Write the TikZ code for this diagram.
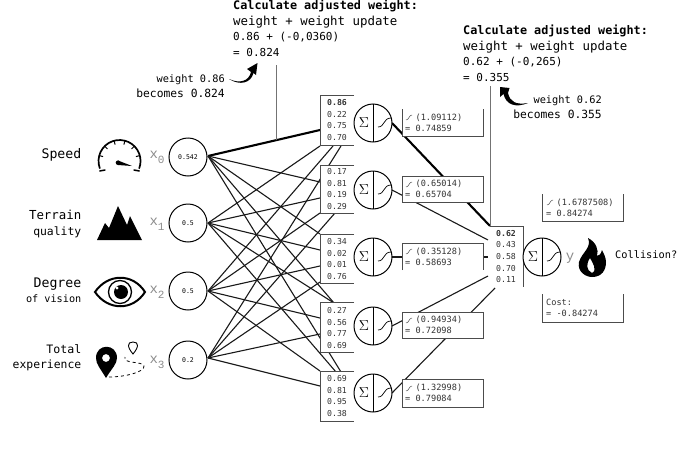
\documentclass[tikz,border=0pt]{standalone}
\usepackage{fontspec}
\setmainfont{DejaVu Sans Mono}
\newfontfamily\xfont{Liberation Mono}
\newcommand{\fs}[1]{\fontsize{#1}{15.6}\selectfont}
\begin{document}
\begin{tikzpicture}[x=1pt,y=-1pt,
  wire/.style={line width=1.1pt,draw=black!90},
  heavy/.style={line width=2.1pt},
  frame/.style={line width=0.8pt,draw=black!70},
  neuron/.style={circle,draw,line width=1pt,minimum size=38pt,inner sep=0pt,fill=white},
  weights/.style={font=\fontsize{8.2}{11.7}\selectfont,align=center,text=black!80,inner sep=0pt},
  act/.style={font=\fontsize{8.6}{11}\selectfont,align=left,anchor=west,inner sep=0pt,text=black!80},
  lbl/.style={font=\fontsize{11}{15.4}\selectfont,align=right,anchor=east,inner sep=0pt},
  xlab/.style={text=black!45,inner sep=0pt,font=\xfont\fontsize{14}{14}\selectfont},
  note/.style={font=\fontsize{11}{15.6}\selectfont,align=left,anchor=north west,inner sep=0pt},
  leader/.style={line width=0.9pt,draw=black!55},
  curvelet/.style={line width=0.7pt},
  tinycurve/.style={line width=0.5pt,draw=black!70}]
\useasboundingbox (0,0) rectangle (683,450);

% input neurons
\node[neuron] (i0) at (188,157) {\fontsize{6.5}{8}\selectfont 0.542};
\node[neuron] (i1) at (188,223) {\fontsize{6.5}{8}\selectfont 0.5};
\node[neuron] (i2) at (188,291) {\fontsize{6.5}{8}\selectfont 0.5};
\node[neuron] (i3) at (188,360) {\fontsize{6.5}{8}\selectfont 0.2};

% attachment points of the input wires
\coordinate (o0) at (208,156);
\coordinate (o1) at (208,223);
\coordinate (o2) at (208,291);
\coordinate (o3) at (208,358);
\coordinate (a0) at (320,130);
\coordinate (a1) at (320,146);
\coordinate (a2) at (333,146);
\coordinate (a3) at (341,146);
\coordinate (b0) at (320,182);
\coordinate (b1) at (320,198);
\coordinate (b2) at (320,213);
\coordinate (b3) at (335,213);
\coordinate (c0) at (320,234);
\coordinate (c1) at (320,250);
\coordinate (c2) at (320,266);
\coordinate (c3) at (320,282);
\coordinate (d0) at (334,303);
\coordinate (d1) at (334,303);
\coordinate (d2) at (320,318);
\coordinate (d3) at (320,334);
\coordinate (e0) at (341,372);
\coordinate (e1) at (336,372);
\coordinate (e2) at (320,371);
\coordinate (e3) at (320,386);

% wires from the input layer to the hidden layer
\draw[heavy] (o0) -- (a0);
\foreach \s/\t in {o0/b0,o0/c0,o0/d0,o0/e0,
                   o1/a1,o1/b1,o1/c1,o1/d1,o1/e1,
                   o2/a2,o2/b2,o2/c2,o2/d2,o2/e2,
                   o3/a3,o3/b3,o3/c3,o3/d3,o3/e3}
  \draw[wire] (\s) -- (\t);

% wires from the hidden layer to the output
\coordinate (s0) at (392,123);
\coordinate (s1) at (392,190);
\coordinate (s2) at (392,257);
\coordinate (s3) at (392,326);
\coordinate (s4) at (392,393);
\draw[heavy] (s0) -- (490,226);
\draw[wire] (s1) -- (488,240);
\draw[wire] (s2) -- (488,257);
\draw[wire] (s3) -- (488,276);
\draw[wire] (s4) -- (495,288);

% leader lines to the calculations
\draw[leader] (276,65) -- (276,140);
\draw[leader] (490,86) -- (490,226);

% hidden layer: weight lists
\foreach \n/\t/\b/\c/\l in {
   h0/95/145/120/{\textbf{0.86}\\0.22\\0.75\\0.70},
   h1/165/213/189/{0.17\\0.81\\0.19\\0.29},
   h2/234/283/259/{0.34\\0.02\\0.01\\0.76},
   h3/302/352/328/{0.27\\0.56\\0.77\\0.69},
   h4/371/421/396/{0.69\\0.81\\0.95\\0.38}}{
  \path[fill=white] (320,\t) rectangle (354,\b);
  \draw[frame] (354,\t) -- (320,\t) -- (320,\b) -- (354,\b);
  \node[weights] (\n) at (337,\c) {\l};
}

% hidden layer: summation and activation
\foreach \n/\y in {n0/123,n1/190,n2/257,n3/326,n4/393}{
  \node[neuron] (\n) at (373,\y) {};
  \draw[line width=0.8pt] (373,\y-19) -- (373,\y+19);
  \node[inner sep=0pt,font=\fontsize{15}{15}\selectfont] at (364,\y) {$\Sigma$};
  \draw[curvelet] (378,\y+4) .. controls (385,\y+4) and (383,\y-5) .. (391,\y-5);
}

% activation read-outs
\path[fill=white] (402,109) rectangle (483,136);
\draw[frame] (402,109) -- (402,136) -- (483,136) -- (483,109);
\node[act] (r0) at (405,122.5) {\hspace*{10.4pt}(1.09112)\\= 0.74859};
\path[fill=white] (402,176) rectangle (483,202);
\draw[frame] (402,176) rectangle (483,202);
\node[act] (r1) at (405,189) {\hspace*{10.4pt}(0.65014)\\= 0.65704};
\path[fill=white] (402,243) rectangle (483,270);
\draw[frame] (402,270) -- (402,243) -- (483,243) -- (483,270);
\node[act] (r2) at (405,256.5) {\hspace*{10.4pt}(0.35128)\\= 0.58693};
\path[fill=white] (402,312) rectangle (483,338);
\draw[frame] (402,312) rectangle (483,338);
\node[act] (r3) at (405,325) {\hspace*{10.4pt}(0.94934)\\= 0.72098};
\path[fill=white] (402,379) rectangle (483,407);
\draw[frame] (402,379) rectangle (483,407);
\node[act] (r4) at (405,393) {\hspace*{10.4pt}(1.32998)\\= 0.79084};

% small activation marks in front of the read-outs
\foreach \y in {117,184,251,320,388}
  \draw[tinycurve] (406,\y+3) .. controls (409,\y+3) and (409,\y-2) .. (412,\y-2);

% output neuron
\path[fill=white] (490,226) rectangle (523,287);
\draw[frame] (490,226) -- (523,226) -- (523,287);
\node[weights] (w) at (506,256.5) {\textbf{0.62}\\0.43\\0.58\\0.70\\0.11};
\node[neuron] (out) at (542,257) {};
\draw[line width=0.8pt] (542,238) -- (542,276);
\node[inner sep=0pt,font=\fontsize{15}{15}\selectfont] at (533,257) {$\Sigma$};
\draw[curvelet] (547,261) .. controls (554,261) and (552,252) .. (560,252);
\node[xlab] (y) at (570,258) {y};

% output read-outs
\draw[frame] (542,194) -- (542,221) -- (623,221) -- (623,194);
\node[act] (r5) at (546,207.5) {\hspace*{10.4pt}(1.6787508)\\= 0.84274};
\draw[tinycurve] (547,205) .. controls (550,205) and (550,200) .. (553,200);
\draw[frame] (542,294) -- (542,322) -- (623,322) -- (623,294);
\node[act] (cost) at (546,308) {Cost:\\= -0.84274};

% input labels and names
\node[lbl] (l0) at (81.5,155) {\fs{13.2}Speed};
\node[lbl] (l1) at (81.5,224) {\fs{12.4}Terrain\\\fs{11.4}quality};
\node[lbl] (l2) at (81.5,290.5) {\fs{13.2}Degree\\\fs{10.2}of vision};
\node[lbl] (l3) at (81.5,358) {\fs{11.6}Total\\\fs{11.4}experience};
\node[xlab] (x0) at (157,157) {x\raisebox{-5pt}{\fontsize{11}{11}\selectfont 0}};
\node[xlab] (x1) at (157,224) {x\raisebox{-5pt}{\fontsize{11}{11}\selectfont 1}};
\node[xlab] (x2) at (157,292) {x\raisebox{-5pt}{\fontsize{11}{11}\selectfont 2}};
\node[xlab] (x3) at (157,362) {x\raisebox{-5pt}{\fontsize{11}{11}\selectfont 3}};

% speedometer
\draw[line width=1.7pt,line cap=round] (99.8,168.2) arc[start angle=-200,end angle=20,radius=21];
\foreach \a in {165,135,105,75,45,15}
  \draw[line width=1pt] ({119.5+21*cos(\a)},{161-21*sin(\a)}) -- ({119.5+17*cos(\a)},{161-17*sin(\a)});
\draw[line width=1.5pt,line cap=round] (99.8,171) -- (105,170);
\draw[line width=1.5pt,line cap=round] (139.2,171) -- (134,170);
\fill (118,162.7) circle (2.3);
\fill (118,160.5) -- (132,166) -- (118,165) -- cycle;

% mountains
\fill (97,240) -- (105,223) -- (109,228) -- (118,206) -- (127,225) -- (130,216) -- (142,240) -- cycle;

% eye
\draw[line width=2pt] (95,292) .. controls (108,273) and (133,273) .. (145,292) .. controls (133,311) and (108,311) .. (95,292) -- cycle;
\draw[line width=1.3pt] (120,292) circle (11.5);
\fill (121,292) circle (7);
\fill[white] (117,288) circle (1.6);

% map pin and dashed route
\fill[even odd rule] (106,378) .. controls (100,368) and (96,364) .. (96,358) .. controls (96,343) and (117,343) .. (117,358) .. controls (117,364) and (112,368) .. (106,378) -- cycle (106,358) circle (4);
\draw[line width=0.9pt] (133,354) .. controls (127,347) and (127,342) .. (133,342) .. controls (139,342) and (139,347) .. (133,354) -- cycle;
\draw[line width=0.8pt,dashed] (109,377) .. controls (125,377) and (145,372) .. (144,366) .. controls (143,361) and (122,364) .. (125,357);

% flame
\fill[even odd rule] (588,238) .. controls (592,248) and (582,252) .. (579,262) .. controls (577,272) and (586,277) .. (592,277) .. controls (602,277) and (606,270) .. (606,262) .. controls (606,258) and (604,254) .. (602,250) .. controls (601,254) and (599,256) .. (597,256) .. controls (599,250) and (596,242) .. (588,238) -- cycle
  (592,273) .. controls (586,270) and (586,264) .. (590,258) .. controls (592,262) and (598,270) .. (592,273) -- cycle;
\node[inner sep=0pt,anchor=west,font=\fontsize{10.3}{14}\selectfont] (q) at (615,255) {Collision?};

% calculation notes
\node[note] (calc1) at (233,0) {\fs{11.8}\textbf{Calculate adjusted weight:}\\\fs{12.4}weight + weight update\\\fs{11}0.86 + (-0,0360)\\\fs{11}= 0.824};
\node[note] (calc2) at (463,25) {\fs{11.8}\textbf{Calculate adjusted weight:}\\\fs{12.4}weight + weight update\\\fs{11}0.62 + (-0,265)\\\fs{11}= 0.355};
\node[lbl] (m1) at (225,86) {\fs{10.3}weight 0.86\\\fs{11.3}becomes 0.824};
\node[lbl] (m2) at (602,107) {\fs{10.3}weight 0.62\\\fs{11.3}becomes 0.355};

% curved pointers to the results
\coordinate (p1) at (229,79);
\coordinate (q1) at (257.5,63);
\coordinate (p2) at (528,103);
\coordinate (q2) at (500,87);
\fill (p1) .. controls (240,84) and (249,81) .. (251,72) -- (247,69) -- (q1) -- (256,75) -- (253.5,73) .. controls (251,83) and (240,86) .. (p1) -- cycle;
\fill (p2) .. controls (516,105) and (510,102) .. (508,93) -- (509.5,88) -- (q2) -- (500,97) -- (503.5,94) .. controls (506,105) and (516,108) .. (p2) -- cycle;
\end{tikzpicture}
\end{document}
